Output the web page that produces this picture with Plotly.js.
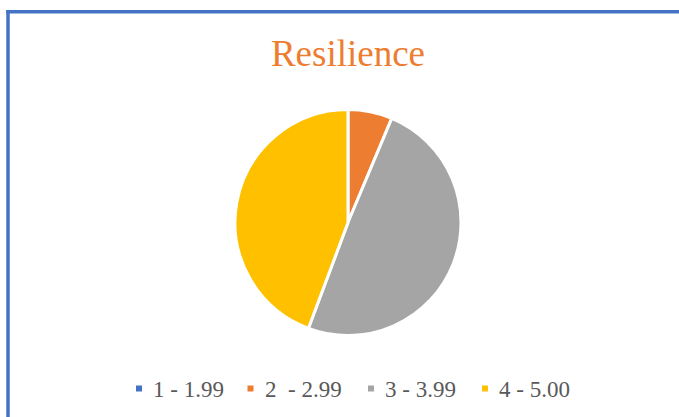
<!DOCTYPE html>
<html>
<head>
<meta charset="utf-8">
<script src="https://cdn.plot.ly/plotly-3.0.1.min.js"></script>
<style>
html,body{margin:0;padding:0;background:#fff;}
#chart{width:679px;height:417px;}
</style>
</head>
<body>
<div id="chart"></div>
<script>
// Data
var categories = ["1 - 1.99", "2\u00a0 - 2.99", "3 - 3.99", "4 - 5.00"];
var counts = [0, 5, 39, 35];
var colors = ["#4472C4", "#ED7D31", "#A5A5A5", "#FFC000"];
var chartTitle = "Resilience";

// Layout helpers (pixel -> paper with zero margins)
var W = 679, H = 417;
function px(x){ return x / W; }
function py(y){ return 1 - y / H; }

var cx = 348, cy = 222.5, R = 113;

var legendTextX = [151, 262.5, 383, 497];
var legendY = 389.5;

var annotations = [];
var shapes = [];
for (var i = 0; i < categories.length; i++) {
  var sx = legendTextX[i] - 12;
  shapes.push({
    type: "rect", xref: "paper", yref: "paper",
    x0: px(sx - 3), x1: px(sx + 3), y0: py(legendY - 4), y1: py(legendY + 2),
    fillcolor: colors[i], line: {width: 0}
  });
  annotations.push({
    xref: "paper", yref: "paper", x: px(legendTextX[i]), y: py(legendY),
    xanchor: "left", yanchor: "middle", showarrow: false,
    text: categories[i],
    font: {family: "Liberation Serif", size: 23, color: "#595959"}
  });
}

// Frame (left + top border)
shapes.push({type: "line", xref: "paper", yref: "paper", x0: px(8), x1: px(8), y0: 0, y1: py(10), line: {color: "#4472C4", width: 3.5}});
shapes.push({type: "line", xref: "paper", yref: "paper", x0: px(6.3), x1: 1, y0: py(11.7), y1: py(11.7), line: {color: "#4472C4", width: 3.5}});

var trace = {
  type: "pie",
  labels: categories,
  values: counts,
  marker: {colors: colors, line: {color: "#ffffff", width: 3}},
  sort: false,
  direction: "clockwise",
  rotation: 0,
  textinfo: "none",
  hoverinfo: "label+value+percent",
  showlegend: false,
  domain: {x: [px(cx - R), px(cx + R)], y: [py(cy + R), py(cy - R)]}
};

var layout = {
  width: W, height: H,
  margin: {l: 0, r: 0, t: 0, b: 0},
  paper_bgcolor: "#ffffff",
  plot_bgcolor: "#ffffff",
  title: {
    text: chartTitle,
    x: px(348), xanchor: "center", xref: "paper",
    y: py(53), yanchor: "middle", yref: "container",
    font: {family: "Liberation Serif", size: 37, color: "#ED7D31"}
  },
  annotations: annotations,
  shapes: shapes,
  showlegend: false
};

Plotly.newPlot("chart", [trace], layout, {displayModeBar: false, staticPlot: true});
</script>
</body>
</html>
